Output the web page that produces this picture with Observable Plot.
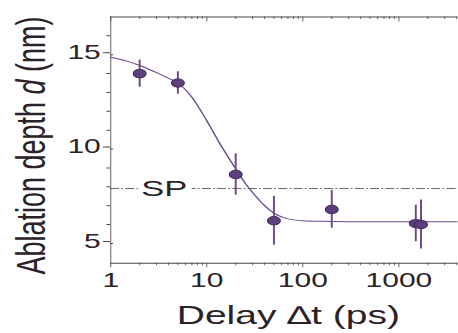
<!DOCTYPE html>
<html><head><meta charset="utf-8">
<script src="https://cdn.jsdelivr.net/npm/d3@7"></script>
<script src="https://cdn.jsdelivr.net/npm/@observablehq/plot@0.6"></script>
<style>
html,body{margin:0;padding:0;background:#fff;overflow:hidden}
#chart{width:458px;height:333px;overflow:hidden}
#chart svg{transform:scaleX(1.5);transform-origin:0 0;display:block}
</style></head><body><div id="chart"></div>
<script>
// measured points
const delays = [2, 5, 20, 50, 200, 1500, 1700];
const depths = [14.0, 13.5, 8.65, 6.2, 6.8, 6.05, 6.0];
const errors = [0.72, 0.6, 1.1, 1.3, 1.0, 0.97, 1.3];
// fitted curve
const fitDelays = [1, 1.5, 2, 3, 4, 5, 7, 10, 14, 20, 25, 30, 40, 50, 70, 100, 150, 300, 1000, 4200];
const fitDepths = [14.87, 14.65, 14.43, 14.05, 13.75, 13.5, 12.75, 11.5, 10.2, 8.95, 8.2, 7.7, 7.0, 6.6, 6.3, 6.2, 6.17, 6.15, 6.15, 6.15];
// reference level
const spLevel = 7.92;
const spLabel = "SP";
const spLabelDelay = 3.6;
// axes
const xMajorTicks = [1, 10, 100, 1000];
const xMinorTicks = [2,3,4,5,6,7,8,9,20,30,40,50,60,70,80,90,200,300,400,500,600,700,800,900,2000,3000,4000];
const yMajorTicks = [5, 10, 15];
const yMinorTicks = [6,7,8,9,11,12,13,14,16];
const xDomain = [1, 4200];
const yDomain = [3.95, 17];
const xTitle = "Delay \u2206t (ps)";
const yTitle = "Ablation depth d (nm)";

const SX = 1.5;
const W = 458 / SX, H = 333;
const mL = 110 / SX, mR = 0, mT = 16.5, mB = 70.3;
const frameW = W - mL - mR, frameH = H - mT - mB;

const points = delays.map((t, i) => ({delay: t, depth: depths[i], err: errors[i]}));
const fit = fitDelays.map((t, i) => ({delay: t, depth: fitDepths[i]}));

const axisColor = "#4a4448";
const textColor = "#2b2228";
const purple = "#5d3f7d";
const curveColor = "#6a4a8c";

const svg = Plot.plot({
  width: W, height: H,
  marginLeft: mL, marginRight: mR, marginTop: mT, marginBottom: mB,
  x: {type: "log", domain: xDomain, label: null},
  y: {domain: yDomain, label: null},
  style: {fontFamily: "'Liberation Sans', Arial, sans-serif", color: textColor, background: "white"},
  marks: [
    // frame lines (top, bottom, left)
    Plot.ruleY(yDomain, {stroke: axisColor, strokeWidth: 1}),
    Plot.ruleX([xDomain[0]], {stroke: axisColor, strokeWidth: 1 / SX}),
    // bottom axis
    Plot.axisX(xMajorTicks, {anchor: "bottom", tickSize: 4.5, tickPadding: 5.6, fontSize: 20, strokeWidth: 1 / SX, stroke: axisColor, fill: textColor, tickFormat: d => String(d), label: null}),
    Plot.axisX(xMinorTicks, {anchor: "bottom", tickSize: 2.5, text: null, strokeWidth: 1 / SX, stroke: axisColor, label: null}),
    // top inward ticks
    Plot.ruleX(xMajorTicks, {insetBottom: frameH - 5, stroke: axisColor, strokeWidth: 1 / SX}),
    Plot.ruleX(xMinorTicks, {insetBottom: frameH - 2.5, stroke: axisColor, strokeWidth: 1 / SX}),
    // left axis
    Plot.axisY(yMajorTicks, {anchor: "left", tickSize: 7 / SX, tickPadding: 2, fontSize: 20, dy: -2, stroke: axisColor, fill: textColor, label: null}),
    Plot.axisY(yMinorTicks, {anchor: "left", tickSize: 3.5 / SX, text: null, stroke: axisColor, label: null}),
    Plot.ruleY(yMajorTicks, {insetRight: frameW - 3 / SX, stroke: axisColor, strokeWidth: 1}),
    // SP level
    Plot.ruleY([spLevel], {stroke: "#3a3a3a", strokeWidth: 0.8, strokeDasharray: "6,1.5,1.2,1.5"}),
    Plot.text([spLabel], {x: [spLabelDelay], y: [spLevel], text: d => d, fontSize: 23, fill: textColor, stroke: "white", strokeWidth: 9, dy: 0.5}),
    // fit curve
    Plot.line(fit, {x: "delay", y: "depth", stroke: curveColor, strokeWidth: 1, curve: "monotone-x"}),
    // error bars
    Plot.ruleX(points, {x: "delay", y1: d => d.depth - d.err, y2: d => d.depth + d.err, stroke: curveColor, strokeWidth: 1.3}),
    // points
    Plot.dot(points, {x: "delay", y: "depth", r: 4.3, fill: purple, stroke: "#3b2452", strokeWidth: 0.7}),
    // titles
    Plot.text([xTitle], {frameAnchor: "bottom", text: d => d, dy: 42.3, dx: 2.4, lineAnchor: "top", textAnchor: "middle", fontSize: 26, fill: textColor}),
    Plot.text([yTitle], {frameAnchor: "left", text: d => d, rotate: -90, dx: -63, dy: 5.4, lineAnchor: "top", textAnchor: "middle", fontSize: 27, fill: textColor})
  ]
});

document.getElementById("chart").appendChild(svg);
d3.select(svg).selectAll("text").each(function() {
  if (this.textContent === yTitle) {
    const el = d3.select(this);
    el.text(null);
    el.append("tspan").text("Ablation depth ");
    el.append("tspan").attr("font-style", "italic").text("d");
    el.append("tspan").text(" (nm)");
  }
});
</script>
</body></html>
